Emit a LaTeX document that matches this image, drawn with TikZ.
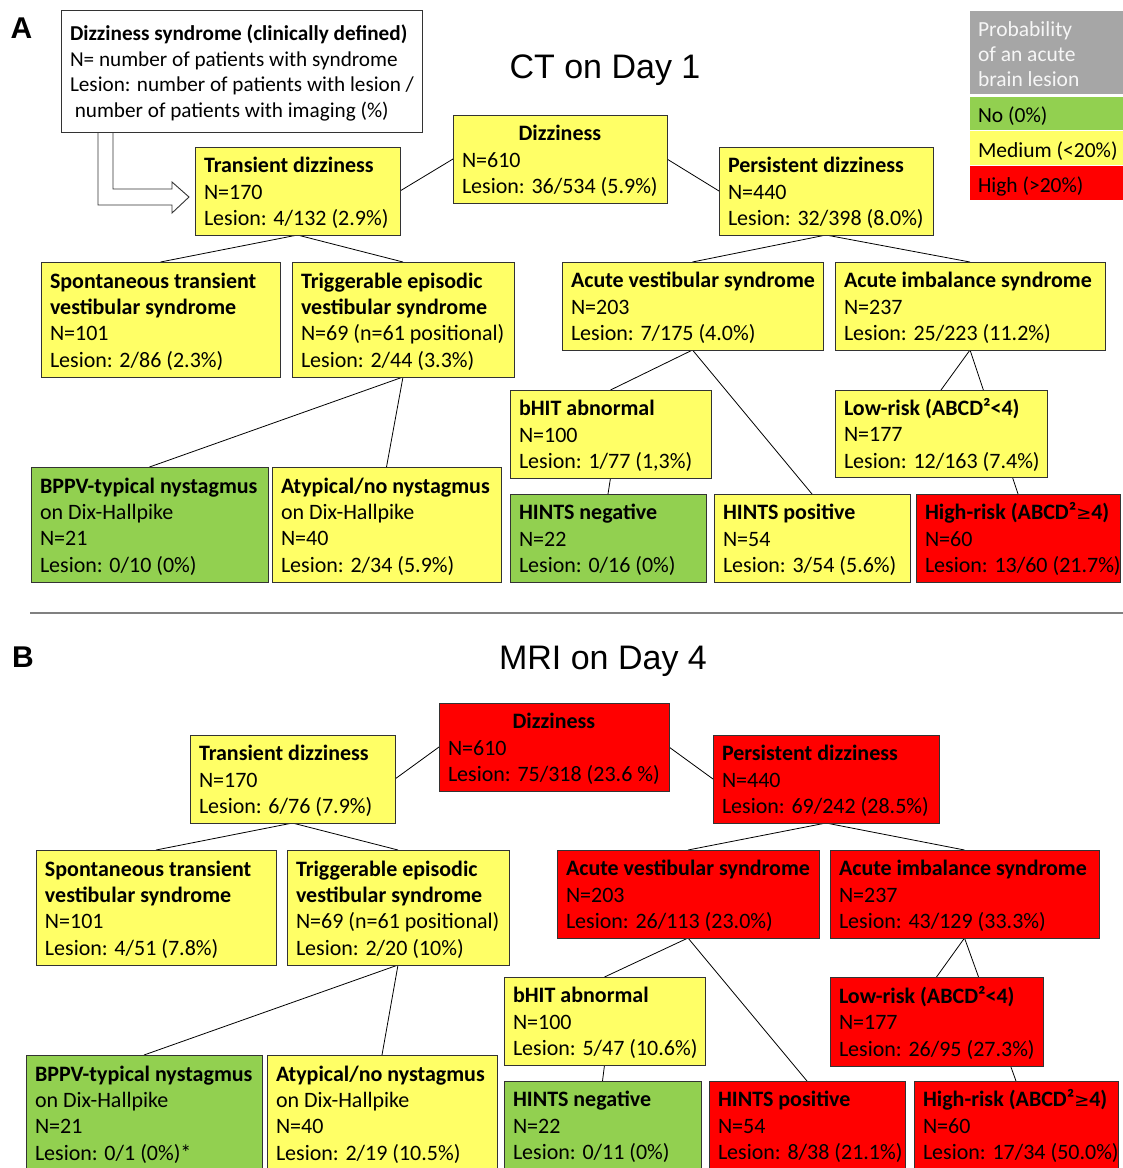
\documentclass[tikz,border=0pt]{standalone}
\usepackage{fontspec}
\setmainfont{Carlito}
\newfontfamily\titlefont{Liberation Sans}
\newfontfamily\symfont{DejaVu Sans}
\usetikzlibrary{backgrounds}
\definecolor{yel}{HTML}{FFFF66}
\definecolor{grn}{HTML}{92D050}
\definecolor{rd}{HTML}{FF0000}
\definecolor{keygray}{HTML}{A6A6A6}
\tikzset{
  bx/.style={draw=black!80, line width=0.9pt, anchor=north west, inner xsep=9pt, inner ysep=0pt, outer sep=0pt, font=\fontsize{22}{26.3}\selectfont},
  conn/.style={draw=black, line width=0.8pt},
  keybox/.style={anchor=north west, inner xsep=8pt, inner ysep=0pt, outer sep=0pt, minimum width=153pt, font=\fontsize{21.5}{25}\selectfont},
  panellabel/.style={font=\titlefont\bfseries\fontsize{30}{34}\selectfont},
  paneltitle/.style={font=\titlefont\fontsize{34}{40}\selectfont}
}
% lower content by 3pt: add 6pt of height on top
\newcommand\dropbox[1]{\raisebox{0pt}[\dimexpr\height+6pt\relax][\depth]{#1}}
\newcommand\bx[7]{\node[bx, fill=#6, minimum width=#4pt, minimum height=#5pt] (#1) at (#2,#3) {\dropbox{\makebox[\dimexpr#4pt-18pt\relax][l]{\begin{tabular}{@{}l@{}}#7\end{tabular}}}};}
\newcommand\geqs{{\mdseries\fontsize{18}{20}\selectfont\symfont ≥}}
\begin{document}
\begin{tikzpicture}[x=1pt,y=-1pt]
\useasboundingbox (0,0) rectangle (1123,1168);

% ---------- Panel A ----------
\node[panellabel] (labA) at (21.5,28.5) {A};
\node[paneltitle] (titleA) at (605,70) {CT on Day 1};

% hollow arrow from legend to transient
\draw[fill=white, line width=0.9pt, draw=black!80] (113,132) -- (113,189) -- (172,189) -- (172,182) -- (189,197) -- (172,213) -- (172,205) -- (98,205) -- (98,132);

\node[bx, fill=white, minimum width=361pt, minimum height=122pt, font=\fontsize{21.2}{25.7}\selectfont] (legend) at (61,10) {\dropbox{\makebox[343pt][l]{\begin{tabular}{@{}l@{}}\textbf{Dizziness syndrome (clinically defined)}\\N= number of patients with syndrome\\Lesion: number of patients with lesion /\\\ number of patients with imaging (\%)\end{tabular}}}};

% key
\node[keybox, fill=keygray, text=white!93!gray, minimum height=82pt] (keyhead) at (970,11) {\raisebox{0pt}[\dimexpr\height+8pt\relax][\depth]{\makebox[137pt][l]{\begin{tabular}{@{}l@{}}Probability\\of an acute\\brain lesion\end{tabular}}}};
\node[keybox, fill=grn, minimum height=33pt] (keyno) at (970,97) {\dropbox{\makebox[137pt][l]{No (0\%)}}};
\node[keybox, fill=yel, minimum height=34pt] (keymed) at (970,131) {\dropbox{\makebox[137pt][l]{Medium (<20\%)}}};
\node[keybox, fill=rd, minimum height=34pt] (keyhigh) at (970,166) {\dropbox{\makebox[137pt][l]{High (>20\%)}}};

\bx{transA}{195}{147}{205}{88}{yel}{\textbf{Transient dizziness}\\N=170\\Lesion: 4/132 (2.9\%)}
\bx{dizzA}{453}{115}{214}{88}{yel}{\multicolumn{1}{@{}c@{}}{\textbf{Dizziness}}\\N=610\\Lesion: 36/534 (5.9\%)}
\bx{persA}{719}{147}{214}{88}{yel}{\textbf{Persistent dizziness}\\N=440\\Lesion: 32/398 (8.0\%)}
\bx{spontA}{41}{262}{239}{115}{yel}{\textbf{Spontaneous transient}\\\textbf{vestibular syndrome}\\N=101\\Lesion: 2/86 (2.3\%)}
\bx{trigA}{292}{262}{222}{115}{yel}{\textbf{Triggerable episodic}\\\textbf{vestibular syndrome}\\N=69 (n=61 positional)\\Lesion: 2/44 (3.3\%)}
\bx{avsA}{562}{262}{261}{88}{yel}{\textbf{Acute vestibular syndrome}\\N=203\\Lesion: 7/175 (4.0\%)}
\bx{aisA}{835}{262}{270}{88}{yel}{\textbf{Acute imbalance syndrome}\\N=237\\Lesion: 25/223 (11.2\%)}
\bx{bhitA}{510}{390}{201}{88}{yel}{\textbf{bHIT abnormal}\\N=100\\Lesion: 1/77 (1,3\%)}
\bx{lowA}{835}{390}{212}{87}{yel}{\textbf{Low-risk (ABCD²<4)}\\N=177\\Lesion: 12/163 (7.4\%)}
\bx{bppvA}{31}{467}{237}{115}{grn}{\textbf{BPPV-typical nystagmus}\\on Dix-Hallpike\\N=21\\Lesion: 0/10 (0\%)}
\bx{atypA}{272}{467}{229}{115}{yel}{\textbf{Atypical/no nystagmus}\\on Dix-Hallpike\\N=40\\Lesion: 2/34 (5.9\%)}
\bx{hnegA}{510}{494}{196}{88}{grn}{\textbf{HINTS negative}\\N=22\\Lesion: 0/16 (0\%)}
\bx{hposA}{714}{494}{196}{88}{yel}{\textbf{HINTS positive}\\N=54\\Lesion: 3/54 (5.6\%)}
\bx{highA}{916}{494}{204}{88}{rd}{\textbf{High-risk (ABCD²\geqs4)}\\N=60\\Lesion: 13/60 (21.7\%)}

% separator
\coordinate (sepL) at (30,613);
\coordinate (sepR) at (1123,613);
\draw[line width=2pt, draw=black!50] (sepL) -- (sepR);

% ---------- Panel B ----------
\node[panellabel] (labB) at (23,657) {B};
\node[paneltitle] (titleB) at (603,661) {MRI on Day 4};

\bx{transB}{190}{735}{205}{88}{yel}{\textbf{Transient dizziness}\\N=170\\Lesion: 6/76 (7.9\%)}
\bx{dizzB}{439}{703}{230}{88}{rd}{\multicolumn{1}{@{}c@{}}{\textbf{Dizziness}}\\N=610\\Lesion: 75/318 (23.6 \%)}
\bx{persB}{713}{735}{226}{88}{rd}{\textbf{Persistent dizziness}\\N=440\\Lesion: 69/242 (28.5\%)}
\bx{spontB}{36}{850}{240}{115}{yel}{\textbf{Spontaneous transient}\\\textbf{vestibular syndrome}\\N=101\\Lesion: 4/51 (7.8\%)}
\bx{trigB}{287}{850}{222}{115}{yel}{\textbf{Triggerable episodic}\\\textbf{vestibular syndrome}\\N=69 (n=61 positional)\\Lesion: 2/20 (10\%)}
\bx{avsB}{557}{850}{262}{88}{rd}{\textbf{Acute vestibular syndrome}\\N=203\\Lesion: 26/113 (23.0\%)}
\bx{aisB}{830}{850}{269}{88}{rd}{\textbf{Acute imbalance syndrome}\\N=237\\Lesion: 43/129 (33.3\%)}
\bx{bhitB}{504}{977}{201}{88}{yel}{\textbf{bHIT abnormal}\\N=100\\Lesion: 5/47 (10.6\%)}
\bx{lowB}{830}{977}{213}{89}{rd}{\textbf{Low-risk (ABCD²<4)}\\N=177\\Lesion: 26/95 (27.3\%)}
\bx{bppvB}{26}{1055}{236}{115}{grn}{\textbf{BPPV-typical nystagmus}\\on Dix-Hallpike\\N=21\\Lesion: 0/1 (0\%)*}
\bx{atypB}{267}{1055}{230}{115}{yel}{\textbf{Atypical/no nystagmus}\\on Dix-Hallpike\\N=40\\Lesion: 2/19 (10.5\%)}
\bx{hnegB}{504}{1081}{197}{88}{grn}{\textbf{HINTS negative}\\N=22\\Lesion: 0/11 (0\%)}
\bx{hposB}{709}{1081}{196}{88}{rd}{\textbf{HINTS positive}\\N=54\\Lesion: 8/38 (21.1\%)}
\bx{highB}{914}{1081}{204}{88}{rd}{\textbf{High-risk (ABCD²\geqs4)}\\N=60\\Lesion: 17/34 (50.0\%)}

\begin{pgfonlayer}{background}
\fill[white] (0,0) rectangle (1123,1168);
% panel A connectors
\draw[conn] (transA.east) -- (dizzA.west);
\draw[conn] (dizzA.east) -- (persA.west);
\draw[conn] (transA.south) -- (spontA.north);
\draw[conn] (transA.south) -- (trigA.north);
\draw[conn] (persA.south) -- (avsA.north);
\draw[conn] (persA.south) -- (aisA.north);
\draw[conn] (trigA.south) -- (bppvA.north);
\draw[conn] (trigA.south) -- (atypA.north);
\draw[conn] (avsA.south) -- (bhitA.north);
\draw[conn] (avsA.south) -- (hposA.north);
\draw[conn] (bhitA.south) -- (hnegA.north);
\draw[conn] (aisA.south) -- (lowA.north);
\draw[conn] (aisA.south) -- (highA.north);
% panel B connectors
\draw[conn] (transB.east) -- (dizzB.west);
\draw[conn] (dizzB.east) -- (persB.west);
\draw[conn] (transB.south) -- (spontB.north);
\draw[conn] (transB.south) -- (trigB.north);
\draw[conn] (persB.south) -- (avsB.north);
\draw[conn] (persB.south) -- (aisB.north);
\draw[conn] (trigB.south) -- (bppvB.north);
\draw[conn] (trigB.south) -- (atypB.north);
\draw[conn] (avsB.south) -- (bhitB.north);
\draw[conn] (avsB.south) -- (hposB.north);
\draw[conn] (bhitB.south) -- (hnegB.north);
\draw[conn] (aisB.south) -- (lowB.north);
\draw[conn] (aisB.south) -- (highB.north);
\end{pgfonlayer}
\end{tikzpicture}
\end{document}
